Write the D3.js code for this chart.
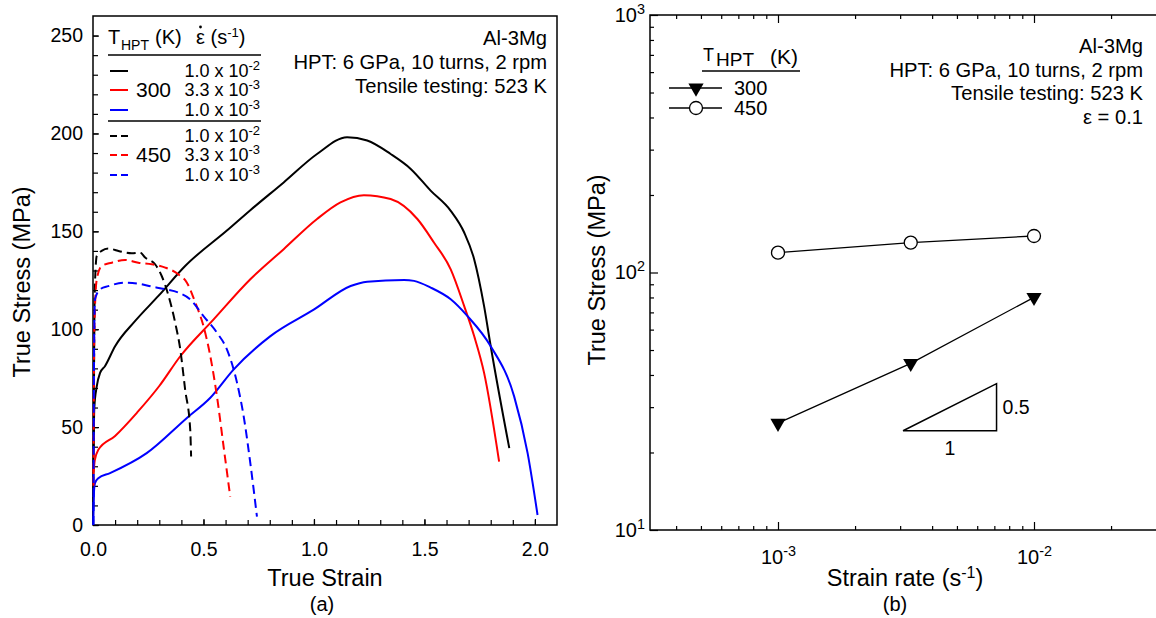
<!DOCTYPE html>
<html>
<head>
<meta charset="utf-8">
<script src="https://cdn.jsdelivr.net/npm/d3@7"></script>
<style>
body { margin: 0; background: #fff; }
text { font-family: "Liberation Sans", Arial, sans-serif; fill: #000; }
</style>
</head>
<body>
<script>
// ---- data, panel (a): [true strain, true stress MPa]
var hpt300_rate1e2 = [[0,0],[0.003,40],[0.006,60],[0.017,70.8],[0.032,77.7],[0.054,81.1],[0.1,91.3],[0.19,104.1],[0.296,117],[0.417,132.3],[0.606,150.4],[0.712,160.8],[0.863,175],[1.014,189.5],[1.15,198.1],[1.241,196.4],[1.347,189.5],[1.438,181.9],[1.528,170.8],[1.619,160.5],[1.68,149.4],[1.725,135.8],[1.77,111.8],[1.8,91.3],[1.884,39.3]];
var hpt300_rate33e4 = [[0.002,26],[0.008,33],[0.024,38.4],[0.1,45.5],[0.2,57.5],[0.3,71],[0.395,86.2],[0.546,105],[0.712,125.5],[0.863,140.9],[1.014,156.3],[1.12,164.8],[1.226,168.5],[1.347,166.5],[1.468,156.3],[1.543,144.3],[1.619,130.6],[1.68,111.8],[1.725,96.5],[1.77,77.7],[1.838,32.4]];
var hpt300_rate1e3 = [[0.001,0],[0.005,18],[0.009,21.4],[0.024,23.9],[0.077,26.5],[0.243,36.7],[0.425,54.7],[0.531,65],[0.636,79.4],[0.803,96.5],[0.999,110],[1.166,122.1],[1.241,124.3],[1.408,125.2],[1.453,124.7],[1.528,121.3],[1.619,115.3],[1.695,106.7],[1.8,91.3],[1.906,65.7],[1.967,36.7],[2.012,5.1]];
var hpt450_rate1e2 = [[0.003,40],[0.008,120],[0.017,137.4],[0.039,140],[0.069,141.2],[0.1,140.5],[0.115,140],[0.145,139.2],[0.175,138.8],[0.213,139.2],[0.236,136.6],[0.281,133.2],[0.311,127.2],[0.342,117],[0.372,103.3],[0.395,89.7],[0.417,69.2],[0.44,48.7],[0.444,35]];
var hpt450_rate33e4 = [[0.002,20],[0.006,100],[0.017,125.5],[0.039,132.3],[0.085,134],[0.145,135.4],[0.205,134],[0.266,133.2],[0.327,131.5],[0.387,128],[0.425,123.8],[0.463,113.6],[0.5,101.6],[0.531,86.2],[0.561,65.7],[0.591,40.1],[0.621,14.5]];
var hpt450_rate1e3 = [[0.002,0],[0.005,90],[0.009,115.3],[0.032,120.4],[0.069,122],[0.145,123.8],[0.205,123.3],[0.266,121.8],[0.327,120.4],[0.387,118.7],[0.44,115.3],[0.5,106.7],[0.561,98.2],[0.606,89.7],[0.652,72.6],[0.682,55.5],[0.712,31.6],[0.742,4.3]];

var rateColors = ["#000000", "#ff0000", "#0000ff"];
var rateMantissa = ["1.0", "3.3", "1.0"];
var rateExponent = ["-2", "-3", "-3"];
var hptTemps = ["300", "450"];

// ---- data, panel (b)
var strainRates = [1e-3, 3.3e-3, 1e-2];
var stress300 = [26, 44.4, 80.1];
var stress450 = [119.4, 130.6, 138.6];
var slopeX = [3.08e-3, 7.14e-3];
var slopeBase = 24.3;
var slopeM = 0.5;

var svg = d3.select("body").append("svg")
  .attr("width", 1156)
  .attr("height", 618);

// ================= panel (a)
var xA = d3.scaleLinear().domain([0, 2.1]).range([93, 557]);
var yA = d3.scaleLinear().domain([0, 260]).range([525, 16]);
var pa = svg.append("g");

function styleAxis(g, fs) {
  g.select(".domain").remove();
  g.attr("font-size", fs).attr("font-family", null);
  g.selectAll(".tick line").attr("stroke", "#000").attr("stroke-width", 1.2);
}

pa.append("g").attr("transform", "translate(0,525)")
  .call(d3.axisBottom(xA).tickValues(d3.range(0, 2.05, 0.1)).tickSize(-5).tickFormat(""))
  .call(styleAxis, 19);
pa.append("g").attr("transform", "translate(0,525)")
  .call(d3.axisBottom(xA).tickValues([0, 0.5, 1, 1.5, 2]).tickSize(-6).tickPadding(17).tickFormat(d3.format(".1f")))
  .call(styleAxis, 19.5);
pa.append("g").attr("transform", "translate(93,0)")
  .call(d3.axisLeft(yA).tickValues(d3.range(0, 251, 10)).tickSize(-5).tickFormat(""))
  .call(styleAxis, 19);
pa.append("g").attr("transform", "translate(93,0)")
  .call(d3.axisLeft(yA).tickValues(d3.range(0, 251, 50)).tickSize(-6).tickPadding(10))
  .call(styleAxis, 19.5);

pa.append("rect")
  .attr("x", 93).attr("y", 16).attr("width", 557 - 93).attr("height", 525 - 16)
  .attr("fill", "none").attr("stroke", "#000").attr("stroke-width", 1.5);

var lineA = d3.line()
  .x(d => xA(d[0]))
  .y(d => yA(d[1]))
  .curve(d3.curveMonotoneX);

var curves = [
  {data: hpt300_rate1e2, c: 0, dash: null},
  {data: hpt300_rate33e4, c: 1, dash: null},
  {data: hpt300_rate1e3, c: 2, dash: null},
  {data: hpt450_rate1e2, c: 0, dash: "9,5"},
  {data: hpt450_rate33e4, c: 1, dash: "9,5"},
  {data: hpt450_rate1e3, c: 2, dash: "9,5"}
];
pa.selectAll("path.curve").data(curves).enter().append("path")
  .attr("class", "curve")
  .attr("d", d => lineA(d.data))
  .attr("fill", "none")
  .attr("stroke", d => rateColors[d.c])
  .attr("stroke-width", 2)
  .attr("stroke-dasharray", d => d.dash);

// axis titles (a)
pa.append("text").attr("x", 325).attr("y", 586).attr("text-anchor", "middle")
  .attr("font-size", 23.5).text("True Strain");
pa.append("text").attr("x", 322).attr("y", 611).attr("text-anchor", "middle")
  .attr("font-size", 20).text("(a)");
pa.append("text").attr("transform", "translate(30,282) rotate(-90)").attr("text-anchor", "middle")
  .attr("font-size", 23.5).text("True Stress (MPa)");

// annotation (a)
var noteA = ["Al-3Mg", "HPT: 6 GPa, 10 turns, 2 rpm", "Tensile testing: 523 K"];
pa.selectAll("text.note").data(noteA).enter().append("text")
  .attr("class", "note")
  .attr("x", 547).attr("y", (d, i) => 45 + i * 24)
  .attr("text-anchor", "end").attr("font-size", 20.2)
  .text(d => d);

// legend (a)
var lg = pa.append("g");
var head = lg.append("text").attr("y", 44).attr("font-size", 20);
head.append("tspan").attr("x", 108).text("T");
head.append("tspan").attr("x", 121).attr("dy", 6).attr("font-size", 14).text("HPT");
head.append("tspan").attr("x", 155).attr("dy", -6).text("(K)");
var head2 = lg.append("text").attr("x", 196).attr("y", 44).attr("font-size", 20);
head2.append("tspan").text("\u03b5 (s");
head2.append("tspan").attr("dy", -7).attr("font-size", 13).text("-1");
head2.append("tspan").attr("dy", 7).text(")");
lg.append("circle").attr("cx", 200.5).attr("cy", 27).attr("r", 1.4).attr("fill", "#000");
lg.append("line").attr("x1", 108).attr("x2", 261).attr("y1", 55).attr("y2", 55)
  .attr("stroke", "#000").attr("stroke-width", 1.5);
lg.append("line").attr("x1", 108).attr("x2", 261).attr("y1", 121).attr("y2", 121)
  .attr("stroke", "#000").attr("stroke-width", 1.5);

var rowY = [71, 90, 110, 136, 155, 175];
curves.forEach(function(cv, i) {
  lg.append("line").attr("x1", 110).attr("x2", 128).attr("y1", rowY[i]).attr("y2", rowY[i])
    .attr("stroke", rateColors[cv.c]).attr("stroke-width", 2)
    .attr("stroke-dasharray", cv.dash ? "7,4" : null);
  var t = lg.append("text").attr("x", 260).attr("y", rowY[i] + 6)
    .attr("text-anchor", "end").attr("font-size", 18);
  t.append("tspan").text(rateMantissa[cv.c] + " x 10");
  t.append("tspan").attr("dy", -7).attr("font-size", 13).text(rateExponent[cv.c]);
});
hptTemps.forEach(function(tp, i) {
  lg.append("text").attr("x", 136).attr("y", rowY[i * 3 + 1] + 7)
    .attr("font-size", 21).text(tp);
});

// ================= panel (b)
var xB = d3.scaleLog().domain([Math.pow(10, -3.5), Math.pow(10, -1.5)]).range([650, 1162]);
var yB = d3.scaleLog().domain([10, 1000]).range([530, 15]);
var pb = svg.append("g");

var xMinor = [4e-4, 5e-4, 6e-4, 7e-4, 8e-4, 9e-4, 2e-3, 3e-3, 4e-3, 5e-3, 6e-3, 7e-3, 8e-3, 9e-3, 2e-2, 3e-2];
var yMinor = [20, 30, 40, 50, 60, 70, 80, 90, 200, 300, 400, 500, 600, 700, 800, 900];

function supLabels(g) {
  g.selectAll(".tick text").append("tspan")
    .attr("dy", "-0.55em").attr("font-size", "0.72em")
    .text(d => Math.round(Math.log10(d)));
}

pb.append("g").attr("transform", "translate(0,530)")
  .call(d3.axisBottom(xB).tickValues(xMinor).tickSize(-4).tickFormat(""))
  .call(styleAxis, 19);
pb.append("g").attr("transform", "translate(0,530)")
  .call(d3.axisBottom(xB).tickValues([1e-3, 1e-2]).tickSize(-8).tickPadding(20).tickFormat(() => "10"))
  .call(styleAxis, 20).call(supLabels);
pb.append("g").attr("transform", "translate(0,15)")
  .call(d3.axisTop(xB).tickValues(xMinor).tickSize(-4).tickFormat(""))
  .call(styleAxis, 19);
pb.append("g").attr("transform", "translate(0,15)")
  .call(d3.axisTop(xB).tickValues([1e-3, 1e-2]).tickSize(-8).tickFormat(""))
  .call(styleAxis, 19);
pb.append("g").attr("transform", "translate(650,0)")
  .call(d3.axisLeft(yB).tickValues(yMinor).tickSize(-4).tickFormat(""))
  .call(styleAxis, 19);
pb.append("g").attr("transform", "translate(650,0)")
  .call(d3.axisLeft(yB).tickValues([10, 100, 1000]).tickSize(-8).tickPadding(5).tickFormat(() => "10"))
  .call(styleAxis, 20).call(supLabels);

pb.append("rect")
  .attr("x", 650).attr("y", 15).attr("width", 1162 - 650).attr("height", 530 - 15)
  .attr("fill", "none").attr("stroke", "#000").attr("stroke-width", 1.5);

var lineB = d3.line().x(d => xB(d[0])).y(d => yB(d[1]));
var pts300 = strainRates.map((r, i) => [r, stress300[i]]);
var pts450 = strainRates.map((r, i) => [r, stress450[i]]);

pb.append("path").attr("d", lineB(pts450)).attr("fill", "none")
  .attr("stroke", "#000").attr("stroke-width", 1.3);
pb.append("path").attr("d", lineB(pts300)).attr("fill", "none")
  .attr("stroke", "#000").attr("stroke-width", 1.3);

var tri = d3.symbol().type(d3.symbolTriangle).size(100);
pb.selectAll("path.m300").data(pts300).enter().append("path")
  .attr("class", "m300")
  .attr("d", tri)
  .attr("transform", d => "translate(" + xB(d[0]) + "," + yB(d[1]) + ") rotate(180)")
  .attr("fill", "#000");
pb.selectAll("circle.m450").data(pts450).enter().append("circle")
  .attr("class", "m450")
  .attr("cx", d => xB(d[0])).attr("cy", d => yB(d[1])).attr("r", 6.5)
  .attr("fill", "#fff").attr("stroke", "#000").attr("stroke-width", 1.3);

// slope triangle
var slopeTop = slopeBase * Math.pow(slopeX[1] / slopeX[0], slopeM);
var slopePts = [[slopeX[0], slopeBase], [slopeX[1], slopeBase], [slopeX[1], slopeTop]];
pb.append("path").attr("d", lineB(slopePts) + "Z")
  .attr("fill", "none").attr("stroke", "#000").attr("stroke-width", 1.5);
pb.append("text").attr("x", xB(slopeX[1]) + 6).attr("y", (yB(slopeBase) + yB(slopeTop)) / 2 + 7)
  .attr("font-size", 19.5).text("0.5");
pb.append("text").attr("x", xB(Math.sqrt(slopeX[0] * slopeX[1]))).attr("y", yB(slopeBase) + 24)
  .attr("text-anchor", "middle").attr("font-size", 19.5).text("1");

// axis titles (b)
var xt = pb.append("text").attr("x", 905).attr("y", 586).attr("text-anchor", "middle").attr("font-size", 23.5);
xt.append("tspan").text("Strain rate (s");
xt.append("tspan").attr("dy", -8).attr("font-size", 16).text("-1");
xt.append("tspan").attr("dy", 8).text(")");
pb.append("text").attr("x", 895).attr("y", 611).attr("text-anchor", "middle")
  .attr("font-size", 20).text("(b)");
pb.append("text").attr("transform", "translate(605,270) rotate(-90)").attr("text-anchor", "middle")
  .attr("font-size", 23.5).text("True Stress (MPa)");

// annotation (b)
var noteB = ["Al-3Mg", "HPT: 6 GPa, 10 turns, 2 rpm", "Tensile testing: 523 K", "\u03b5 = 0.1"];
pb.selectAll("text.note").data(noteB).enter().append("text")
  .attr("class", "note")
  .attr("x", 1143).attr("y", (d, i) => 53 + i * 23.5)
  .attr("text-anchor", "end").attr("font-size", 20.2)
  .text(d => d);

// legend (b)
var lb = pb.append("g");
var hb = lb.append("text").attr("y", 64).attr("font-size", 21);
hb.append("tspan").attr("x", 703).attr("dy", -3).attr("font-size", 18).text("T");
hb.append("tspan").attr("x", 716).attr("dy", 5).attr("font-size", 19).text("HPT");
hb.append("tspan").attr("x", 770).attr("dy", -2).text("(K)");
lb.append("line").attr("x1", 702).attr("x2", 800).attr("y1", 71).attr("y2", 71)
  .attr("stroke", "#000").attr("stroke-width", 1.5);
var legY = [88, 108];
legY.forEach(function(yy, i) {
  lb.append("line").attr("x1", 669).attr("x2", 722).attr("y1", yy).attr("y2", yy)
    .attr("stroke", "#000").attr("stroke-width", 1.3);
  if (i === 0) {
    lb.append("path").attr("d", tri).attr("transform", "translate(696," + yy + ") rotate(180)").attr("fill", "#000");
  } else {
    lb.append("circle").attr("cx", 696).attr("cy", yy).attr("r", 6.5)
      .attr("fill", "#fff").attr("stroke", "#000").attr("stroke-width", 1.3);
  }
  lb.append("text").attr("x", 734).attr("y", yy + 7).attr("font-size", 20).text(hptTemps[i]);
});
</script>
</body>
</html>
